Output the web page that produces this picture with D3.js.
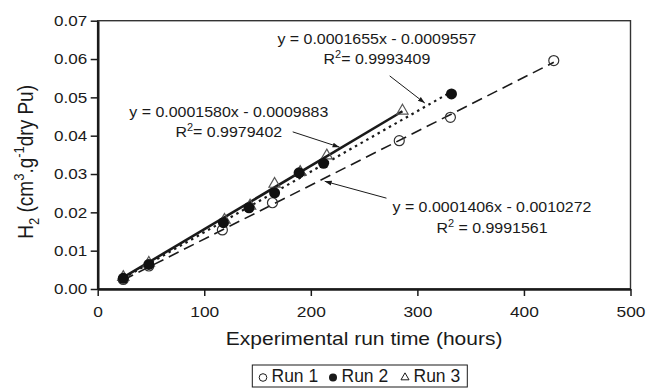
<!DOCTYPE html>
<html>
<head>
<meta charset="utf-8">
<script src="https://cdn.jsdelivr.net/npm/d3@7"></script>
<style>
  body { margin: 0; background: #fff; }
  text { font-family: "Liberation Sans", Arial, sans-serif; fill: #1a1a1a; }
</style>
</head>
<body>
<svg id="chart" width="646" height="388"></svg>
<script>

// Measured H2 values (cm3/g dry Pu) against run time (hours)
const run1 = [[24, 0.0025], [48, 0.0060], [117, 0.0154], [164, 0.0225],
              [283, 0.0387], [331, 0.0448], [428, 0.0596]];
const run2 = [[24, 0.0028], [48, 0.0064], [118, 0.0173], [142, 0.0212],
              [166, 0.0251], [189, 0.0303], [212, 0.0328], [332, 0.0509]];
const run3 = [[24, 0.0031], [48, 0.0068], [119, 0.0180], [143, 0.0217],
              [166, 0.0274], [190, 0.0305], [215, 0.0348], [286, 0.0465]];

// Linear fits as drawn: slope, intercept, x range
const fitRun1 = { slope: 0.0001406, icpt: -0.0010272, from: 24, to: 428 };
const fitRun2 = { slope: 0.0001580, icpt: -0.0009883, from: 24, to: 333 };
const fitRun3 = { slope: 0.0001655, icpt: -0.0009557, from: 24, to: 286 };

// Trendline labels: [x, y] of first line centre, text, R2 text, arrow start/end
const labels = [
  { at: [262, 0.0640], eq: "y = 0.0001655x - 0.0009557", r2: "= 0.9993409",
    arrow: [[274, 0.0556], [307, 0.0485]] },
  { at: [123, 0.0450], eq: "y = 0.0001580x - 0.0009883", r2: "= 0.9979402",
    arrow: [[183, 0.0410], [227, 0.0370]] },
  { at: [370, 0.0200], eq: "y = 0.0001406x - 0.0010272", r2: " = 0.9991561",
    arrow: [[271, 0.0237], [213, 0.0281]] }
];

const xTicks = [0, 100, 200, 300, 400, 500];
const yTicks = [0, 0.01, 0.02, 0.03, 0.04, 0.05, 0.06, 0.07];

const svg = d3.select("svg#chart");
const ink = "#1a1a1a";

const padL = 97.7, padR = 630.5, padT = 20.7, padB = 289;

const x = d3.scaleLinear().domain([0, 500]).range([padL, padR]);
const y = d3.scaleLinear().domain([0, 0.07]).range([padB, padT]);

// arrow head
svg.append("defs").append("marker")
   .attr("id", "head")
   .attr("viewBox", "0 0 10 10")
   .attr("refX", 10).attr("refY", 5)
   .attr("markerWidth", 7).attr("markerHeight", 7)
   .attr("orient", "auto")
   .append("path")
   .attr("d", "M0,1.5 L10,5 L0,8.5 Z")
   .attr("fill", ink);

// frame (top and right thin)
svg.append("rect")
   .attr("x", padL).attr("y", padT)
   .attr("width", padR - padL).attr("height", padB - padT)
   .attr("fill", "none").attr("stroke", "#333").attr("stroke-width", 1.4);

// fit lines
const fits = [
  { fit: fitRun1, dash: "11,6", w: 1.6 },
  { fit: fitRun2, dash: "2.5,4", w: 2.2 },
  { fit: fitRun3, dash: null, w: 2.6 }
];
fits.forEach(function(f) {
  const p = f.fit;
  svg.append("line")
     .attr("x1", x(p.from)).attr("y1", y(p.slope * p.from + p.icpt))
     .attr("x2", x(p.to)).attr("y2", y(p.slope * p.to + p.icpt))
     .attr("stroke", ink)
     .attr("stroke-width", f.w)
     .attr("stroke-dasharray", f.dash);
});

// markers: run 1 open circles, run 3 open triangles, run 2 filled circles
svg.append("g").selectAll("circle")
   .data(run1).enter().append("circle")
   .attr("cx", d => x(d[0])).attr("cy", d => y(d[1]))
   .attr("r", 5)
   .attr("fill", "none").attr("stroke", "#333").attr("stroke-width", 1.2);

const tri = d3.symbol().type(d3.symbolTriangle).size(55);
svg.append("g").selectAll("path")
   .data(run3).enter().append("path")
   .attr("d", tri)
   .attr("transform", d => "translate(" + x(d[0]) + "," + y(d[1]) + ")")
   .attr("fill", "none").attr("stroke", "#555").attr("stroke-width", 1.2);

svg.append("g").selectAll("circle")
   .data(run2).enter().append("circle")
   .attr("cx", d => x(d[0])).attr("cy", d => y(d[1]))
   .attr("r", 5.5)
   .attr("fill", "#111");

// trendline labels and arrows
labels.forEach(function(l) {
  const cx = x(l.at[0]), cy = y(l.at[1]);
  svg.append("text")
     .attr("transform", "translate(" + cx + "," + cy + ") scale(1.1,1)")
     .attr("text-anchor", "middle")
     .style("font-size", "14.5px")
     .text(l.eq);
  const r = svg.append("text")
     .attr("transform", "translate(" + cx + "," + (cy + 20.5) + ") scale(1.1,1)")
     .attr("text-anchor", "middle")
     .style("font-size", "14.5px");
  r.append("tspan").text("R");
  r.append("tspan").attr("dy", -6).style("font-size", "10px").text("2");
  r.append("tspan").attr("dy", 6).text(l.r2);

  svg.append("line")
     .attr("x1", x(l.arrow[0][0])).attr("y1", y(l.arrow[0][1]))
     .attr("x2", x(l.arrow[1][0])).attr("y2", y(l.arrow[1][1]))
     .attr("stroke", ink).attr("stroke-width", 1)
     .attr("marker-end", "url(#head)");
});

// axes
const xAxis = d3.axisBottom(x).tickValues(xTicks).tickSize(7).tickSizeOuter(0)
                .tickFormat(d3.format("d"));
const yAxis = d3.axisLeft(y).tickValues(yTicks).tickSize(7).tickSizeOuter(0)
                .tickFormat(d3.format(".2f"));

const gx = svg.append("g")
   .attr("transform", "translate(0," + padB + ")")
   .call(xAxis);
gx.selectAll("text")
   .attr("y", 0).attr("dy", "0.71em")
   .attr("transform", "translate(0,17) scale(1.12,1)")
   .style("font-size", "15.5px").style("fill", ink);

const gy = svg.append("g")
   .attr("transform", "translate(" + padL + ",0)")
   .call(yAxis);
gy.selectAll("text")
   .attr("x", 0)
   .attr("transform", "translate(-10.4,0) scale(1.1,1)")
   .style("font-size", "15.5px").style("fill", ink);

[gx, gy].forEach(function(g) {
  g.select(".domain").attr("stroke", ink).attr("stroke-width", 2.6);
  g.selectAll(".tick line").attr("stroke", ink).attr("stroke-width", 1.5);
});

// axis titles
svg.append("text")
   .attr("transform", "translate(" + ((padL + padR) / 2) + ",345) scale(1.13,1)")
   .attr("text-anchor", "middle")
   .style("font-size", "18.6px")
   .text("Experimental run time (hours)");

const yt = svg.append("text")
   .attr("transform", "translate(33," + ((padT + padB) / 2 + 7) + ") rotate(-90) scale(1,1.13)")
   .attr("text-anchor", "middle")
   .style("font-size", "19px");
yt.append("tspan").text("H");
yt.append("tspan").attr("dy", 5).style("font-size", "13px").text("2");
yt.append("tspan").attr("dy", -5).text(" (cm");
yt.append("tspan").attr("dy", -8).style("font-size", "13px").text("3");
yt.append("tspan").attr("dy", 8).text(".g");
yt.append("tspan").attr("dy", -8).style("font-size", "13px").text("-1");
yt.append("tspan").attr("dy", 8).text("dry Pu)");

// legend
const legend = svg.append("g");
legend.append("rect")
   .attr("x", 252.3).attr("y", 365)
   .attr("width", 215).attr("height", 22)
   .attr("fill", "#fff").attr("stroke", ink).attr("stroke-width", 1);

const legendItems = ["Run 1", "Run 2", "Run 3"];
const legendX = [263, 333, 405];
legendItems.forEach(function(name, i) {
  const lx = legendX[i];
  if (i === 0) {
    legend.append("circle").attr("cx", lx).attr("cy", 377.5).attr("r", 3.8)
      .attr("fill", "none").attr("stroke", ink).attr("stroke-width", 1);
  } else if (i === 1) {
    legend.append("circle").attr("cx", lx).attr("cy", 377.5).attr("r", 4)
      .attr("fill", ink);
  } else {
    legend.append("path")
      .attr("d", d3.symbol().type(d3.symbolTriangle).size(28))
      .attr("transform", "translate(" + lx + ",377.5)")
      .attr("fill", "none").attr("stroke", ink).attr("stroke-width", 1);
  }
  legend.append("text")
     .attr("x", lx + 8.5).attr("y", 381.7)
     .style("font-size", "17.5px")
     .text(name);
});

</script>
</body>
</html>
